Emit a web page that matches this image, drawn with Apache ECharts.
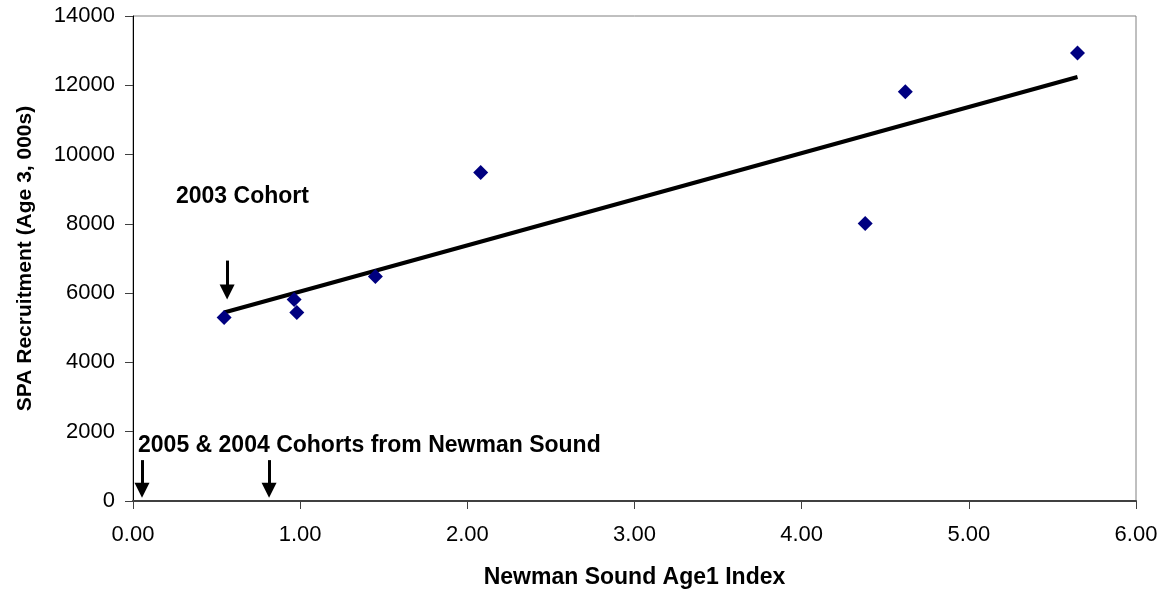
<!DOCTYPE html>
<html><head><meta charset="utf-8">
<script src="https://cdn.jsdelivr.net/npm/echarts@6/dist/echarts.min.js"></script>
<style>html,body{margin:0;padding:0;background:#fff}#c{width:1169px;height:594px}</style>
</head><body><div id="c"></div>
<script>
// Data
const ageIndex    = [0.545, 0.964, 0.98, 1.45, 2.08, 4.38, 4.62, 5.65];
const recruitment = [5300, 5820, 5440, 6480, 9480, 8010, 11810, 12930];
const trendX = [0.545, 5.65];
const trendY = [5440, 12240];
const xAxisRange = [0, 6, 1];       // min, max, interval
const yAxisRange = [0, 14000, 2000];
// Annotations (data coordinates)
const annoTexts = ['2003 Cohort', '2005 & 2004 Cohorts from Newman Sound'];
const annoX = [0.257, 0.03];
const annoY = [8786, 1584];
const arrowX = [0.563, 0.054, 0.814];
const arrowTop = [6940, 1180, 1180];
const arrowTip = [6030, 310, 310];   // centre of arrow head

const FONT = "'Liberation Sans', Arial, sans-serif";
const chart = echarts.init(document.getElementById('c'), null, {renderer: 'canvas'});
const pts = ageIndex.map((x, i) => [x, recruitment[i]]);
const trend = trendX.map((x, i) => [x, trendY[i]]);
const arrows = arrowX.map((x, i) => [{coord: [x, arrowTop[i]]}, {coord: [x, arrowTip[i]]}]);
const annos = annoTexts.map((t, i) => ({name: t, coord: [annoX[i], annoY[i]]}));

chart.setOption({
  animation: false,
  backgroundColor: '#fff',
  grid: {left: 133, right: 33, top: 16, bottom: 92, show: true, borderColor: '#808080', borderWidth: 1, backgroundColor: 'transparent'},
  xAxis: {
    type: 'value', min: xAxisRange[0], max: xAxisRange[1], interval: xAxisRange[2],
    name: 'Newman Sound Age1 Index', nameLocation: 'middle', nameGap: 65,
    nameTextStyle: {fontFamily: FONT, fontSize: 23, fontWeight: 'bold', color: '#000'},
    axisLine: {show: true, onZero: false, lineStyle: {color: '#404040', width: 2}},
    axisTick: {show: true, length: 8, lineStyle: {color: '#404040', width: 1}},
    axisLabel: {fontFamily: FONT, fontSize: 22, color: '#000', margin: 23, formatter: v => v.toFixed(2)},
    splitLine: {show: false}
  },
  yAxis: {
    type: 'value', min: yAxisRange[0], max: yAxisRange[1], interval: yAxisRange[2],
    name: 'SPA Recruitment (Age 3, 000s)', nameLocation: 'middle', nameGap: 97, nameRotate: 90,
    nameTextStyle: {fontFamily: FONT, fontSize: 21, fontWeight: 'bold', color: '#000'},
    axisLine: {show: true, lineStyle: {color: '#000', width: 1}},
    axisTick: {show: true, length: 8, lineStyle: {color: '#404040', width: 1}},
    axisLabel: {fontFamily: FONT, fontSize: 22, color: '#000', margin: 18, formatter: v => String(v)},
    splitLine: {show: false}
  },
  series: [
    {
      type: 'line', data: trend, showSymbol: false, symbol: 'none', z: 2,
      lineStyle: {color: '#000', width: 4}, silent: true
    },
    {
      type: 'scatter', data: pts, symbol: 'diamond', symbolSize: 15, z: 3,
      itemStyle: {color: '#000080', opacity: 1},
      markLine: {
        silent: true, symbol: ['none', 'triangle'], symbolSize: [15, 15], precision: 4,
        lineStyle: {color: '#000', width: 3, type: 'solid'},
        itemStyle: {color: '#000'},
        label: {show: false}, emphasis: {disabled: true},
        data: arrows
      },
      markPoint: {
        silent: true, symbol: 'circle', symbolSize: 0,
        label: {show: true, position: 'right', distance: 0, formatter: p => p.name,
          fontFamily: FONT, fontSize: 23, fontWeight: 'bold', color: '#000'},
        data: annos
      }
    }
  ]
});
</script></body></html>
